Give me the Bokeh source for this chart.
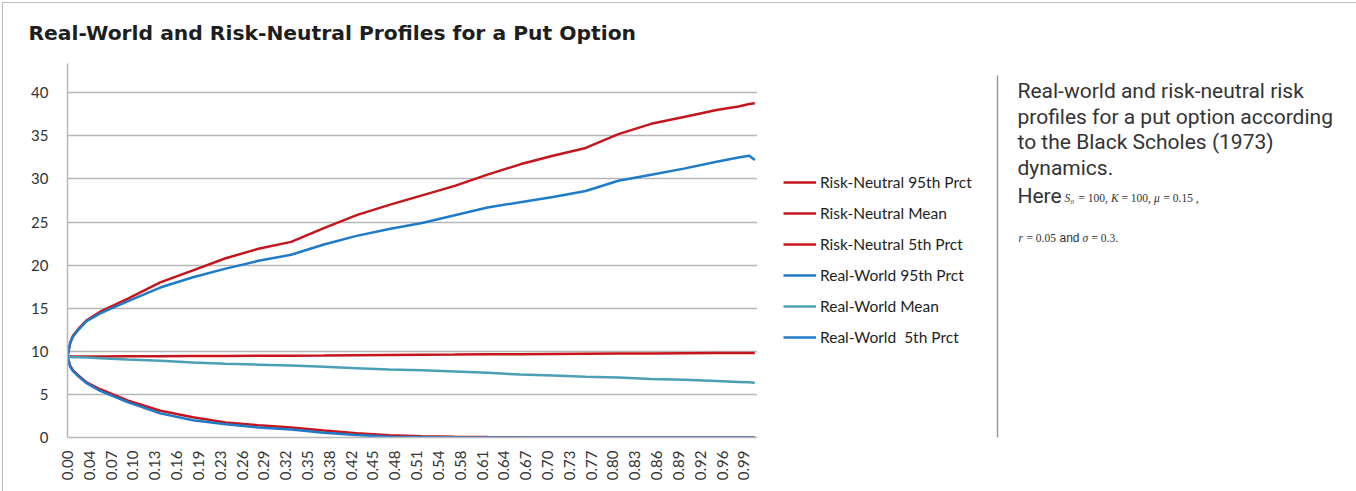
import math
from bokeh.plotting import figure
from bokeh.layouts import row
from bokeh.models import Range1d, FixedTicker, Legend, LegendItem, Label
from bokeh.embed import file_html
from bokeh.resources import INLINE

# Time step index (trading days over one year) at which each profile value is sampled
days = [0, 1, 2, 4, 7, 12, 22, 34, 46, 58, 70, 82, 94, 106, 118, 130, 142,
        154, 166, 178, 190, 202, 214, 226, 238, 246, 250, 252]

rn_p95 = [9.4, 11.0, 11.8, 12.6, 13.6, 14.6, 16.1, 18.0, 19.4, 20.8, 21.9, 22.7, 24.3,
          25.8, 27.0, 28.1, 29.2, 30.5, 31.7, 32.7, 33.6, 35.2, 36.4, 37.2, 38.0, 38.4,
          38.7, 38.8]
rn_mean = [9.4, 9.4, 9.4, 9.4, 9.4, 9.4, 9.42, 9.43, 9.45, 9.47, 9.5, 9.5, 9.52, 9.55,
           9.58, 9.6, 9.62, 9.65, 9.67, 9.7, 9.72, 9.75, 9.76, 9.78, 9.8, 9.8, 9.8, 9.8]
rn_p05 = [9.4, 8.3, 7.8, 7.2, 6.4, 5.6, 4.3, 3.1, 2.35, 1.75, 1.42, 1.15, 0.8, 0.48,
          0.25, 0.15, 0.1, 0.06, 0.03, 0.01, 0.0, 0.0, 0.0, 0.0, 0.0, 0.0, 0.0, 0.0]
rw_p95 = [9.4, 11.0, 11.7, 12.5, 13.5, 14.4, 15.8, 17.4, 18.6, 19.6, 20.5, 21.2, 22.4,
          23.4, 24.2, 24.9, 25.8, 26.7, 27.3, 27.9, 28.6, 29.8, 30.5, 31.2, 32.0, 32.5,
          32.7, 32.2]
rw_mean = [9.35, 9.33, 9.32, 9.3, 9.27, 9.2, 9.05, 8.9, 8.7, 8.55, 8.45, 8.35, 8.2,
           8.05, 7.9, 7.8, 7.65, 7.5, 7.3, 7.2, 7.05, 6.95, 6.8, 6.7, 6.55, 6.45, 6.4, 6.35]
rw_p05 = [9.4, 8.2, 7.7, 7.1, 6.3, 5.4, 4.1, 2.8, 2.0, 1.55, 1.16, 0.93, 0.55, 0.28,
          0.1, 0.05, 0.02, 0.0, 0.0, 0.0, 0.0, 0.0, 0.0, 0.0, 0.0, 0.0, 0.0, 0.0]

series_names = ["Risk-Neutral 95th Prct", "Risk-Neutral Mean", "Risk-Neutral 5th Prct",
                "Real-World 95th Prct", "Real-World Mean", "Real-World  5th Prct"]

# Category labels shown under every 8th time step
x_tick_labels = ["0.00", "0.04", "0.07", "0.10", "0.13", "0.16", "0.19", "0.23", "0.26",
                 "0.29", "0.32", "0.35", "0.38", "0.42", "0.45", "0.48", "0.51", "0.54",
                 "0.58", "0.61", "0.64", "0.67", "0.70", "0.73", "0.77", "0.80", "0.83",
                 "0.86", "0.89", "0.92", "0.96", "0.99"]
y_ticks = [0, 5, 10, 15, 20, 25, 30, 35, 40]

RED = "#C4161C"
BLUE = "#1F7BC8"
TEAL = "#4BA0B6"
GRID = "#B7B7B7"
TEXT = "#333333"

W, H = 1356, 491
OFF = 3                       # page frame (margin + border) in front of the figures
FL, FR, FT, FB = 67, 757, 63, 437   # chart frame edges on the page
WA = FR - OFF                 # chart figure width (frame ends at its right edge)
WB = W - FR                   # legend + notes panel width
HH = H - OFF

# ---------------- chart ----------------
p = figure(width=WA, height=HH, output_backend="svg", toolbar_location=None,
           x_range=Range1d(0, 253), y_range=Range1d(0, 43.4),
           min_border_left=FL - OFF, min_border_right=0,
           min_border_top=FT - OFF, min_border_bottom=H - FB)
p.outline_line_color = None
p.background_fill_color = "white"
p.border_fill_color = "white"

p.title.text = "Real-World and Risk-Neutral Profiles for a Put Option"
p.title.text_font = "DejaVu Sans"
p.title.text_font_size = "20.3px"
p.title.text_font_style = "bold"
p.title.text_color = "#1e1e1e"
p.title.vertical_align = "top"
p.title.offset = -39
p.title.standoff = 34

tick_pos = [8 * i for i in range(len(x_tick_labels))]
p.xaxis.ticker = FixedTicker(ticks=tick_pos)
p.xaxis.major_label_overrides = {t: s for t, s in zip(tick_pos, x_tick_labels)}
p.xaxis.major_label_orientation = math.pi / 2
p.yaxis.ticker = FixedTicker(ticks=y_ticks)
for ax in (p.xaxis, p.yaxis):
    ax.axis_line_color = GRID
    ax.axis_line_width = 1.5
    ax.major_tick_line_color = None
    ax.minor_tick_line_color = None
    ax.major_label_text_font = "Lato"
    ax.major_label_text_font_size = "15px"
    ax.major_label_text_color = TEXT
p.xaxis.major_label_standoff = 7
p.yaxis.major_label_standoff = 13

p.xgrid.grid_line_color = None
p.ygrid.grid_line_color = GRID
p.ygrid.grid_line_width = 1.5
p.ygrid.ticker = FixedTicker(ticks=y_ticks)

series = [rn_p95, rn_mean, rn_p05, rw_p95, rw_mean, rw_p05]
colors = [RED, RED, RED, BLUE, TEAL, BLUE]
for vals, col in zip(series, colors):
    p.line(days, vals, line_color=col, line_width=2.5)

# ---------------- legend + notes panel (page pixel coordinates) ----------------
q = figure(width=WB, height=HH, output_backend="svg", toolbar_location=None,
           x_range=Range1d(FR, W), y_range=Range1d(FB, FT),
           x_axis_type=None, y_axis_type=None,
           min_border_left=0, min_border_right=0,
           min_border_top=FT - OFF, min_border_bottom=H - FB)
q.outline_line_color = None
q.xgrid.visible = False
q.ygrid.visible = False
q.background_fill_color = "white"
q.border_fill_color = "white"

# legend keys share the styling of the chart lines (their own data lies off the panel)
keys = [q.line(x=[FR, FR + 1], y=[H + 100, H + 100], line_color=col, line_width=2.5)
        for col in colors]
legend = Legend(items=[LegendItem(label=n, renderers=[r]) for n, r in zip(series_names, keys)],
                location=(26, 90), orientation="vertical",
                glyph_width=33, glyph_height=20, label_height=20, label_standoff=4,
                spacing=11, padding=0, margin=0,
                background_fill_alpha=0, border_line_color=None,
                label_text_font="Lato", label_text_font_size="15.5px",
                label_text_color="#1e1e1e")
q.add_layout(legend, "center")

q.segment(x0=[997], y0=[75], x1=[997], y1=[440], line_color="#9a9a9a", line_width=1.5)

def note(x, y, text, font="Roboto", size="21px", style="normal"):
    q.add_layout(Label(x=x, y=y, text=text, text_font=font, text_font_size=size,
                       text_font_style=style, text_color=TEXT,
                       text_baseline="middle", text_align="left"))

note(1017, 90, "Real-world and risk-neutral risk")
note(1017, 116, "profiles for a put option according")
note(1017, 141, "to the Black Scholes (1973)")
note(1017, 167, "dynamics.")
note(1017, 195, "Here")
SERIF = "Liberation Serif"
MS = "11.5px"
note(1064, 197, "S\u2080", SERIF, MS, "italic")
note(1078, 197, "= 100,", SERIF, MS)
note(1110.5, 197, "K", SERIF, MS, "italic")
note(1121, 197, "= 100,", SERIF, MS)
note(1153.5, 197, "\u03bc", SERIF, MS, "italic")
note(1163, 197, "= 0.15 ,", SERIF, MS)
note(1018, 237, "r", SERIF, MS, "italic")
note(1026, 237, "= 0.05", SERIF, MS)
note(1059, 237, "and", "Liberation Sans", "12px")
note(1082, 237, "\u03c3", SERIF, MS, "italic")
note(1091, 237, "= 0.3.", SERIF, MS)

page = row(p, q, styles={"margin-left": "2px", "margin-top": "2px",
                         "border-top": "1px solid #bdbdbd",
                         "border-left": "1px solid #bdbdbd"})

open("out.html", "w").write(file_html(page, INLINE))
